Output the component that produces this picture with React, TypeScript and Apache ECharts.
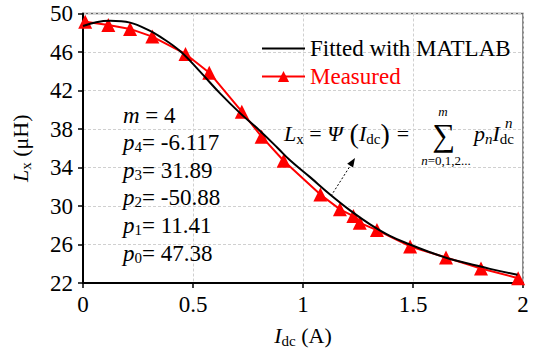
import React, { useEffect, useRef } from "react";
import * as echarts from "echarts";

const measuredX = [0.01, 0.115, 0.214, 0.315, 0.466, 0.574, 0.722, 0.812, 0.912, 1.079, 1.168, 1.229, 1.258, 1.336, 1.487, 1.65, 1.809, 1.978];
const measuredY = [49.15, 48.8, 48.4, 47.6, 45.8, 43.85, 39.8, 37.2, 34.7, 31.2, 29.65, 28.95, 28.25, 27.5, 25.8, 24.65, 23.5, 22.5];

const fittedX = [0, 0.06, 0.123, 0.214, 0.305, 0.35, 0.441, 0.532, 0.623, 0.714, 0.805, 0.886, 0.941, 1.032, 1.123, 1.214, 1.305, 1.395, 1.486, 1.577, 1.668, 1.759, 1.85, 1.975];
const fittedY = [48.7, 49.1, 49.25, 49.05, 48.2, 47.6, 46.1, 43.96, 41.7, 39.65, 37.8, 36.0, 34.75, 33.0, 31.2, 29.55, 28.1, 26.9, 26.0, 25.2, 24.5, 23.98, 23.47, 22.85];

const xTicks = [0, 0.5, 1, 1.5, 2];
const yTicks = [22, 26, 30, 34, 38, 42, 46, 50];

const paramLines = [
  "{i|m}{t| = 4}",
  "{i|p}{s|4}{t|= -6.117}",
  "{i|p}{s|3}{t|= 31.89}",
  "{i|p}{s|2}{t|= -50.88}",
  "{i|p}{s|1}{t|= 11.41}",
  "{i|p}{s|0}{t|= 47.38}",
];

const FONT = "Liberation Serif";

export default function App() {
  const ref = useRef<HTMLDivElement>(null);
  useEffect(() => {
    if (!ref.current) return;
    const chart = echarts.init(ref.current, null, { renderer: "svg" });

    const richBase = {
      i: { fontStyle: "italic", fontSize: 23, fontFamily: FONT, lineHeight: 24, color: "#000" },
      s: { fontSize: 15, fontFamily: FONT, lineHeight: 12, verticalAlign: "bottom", color: "#000" },
      t: { fontSize: 23, fontFamily: FONT, lineHeight: 24, color: "#000" },
    };

    const paramGraphics = paramLines.map((txt, k) => ({
      type: "text",
      x: 123,
      y: 115 + k * 27.6,
      style: {
        text: txt,
        rich: richBase,
        verticalAlign: "middle",
        align: "left",
        fill: "#000",
        fontFamily: FONT,
        fontSize: 23,
      },
      z: 100,
    }));

    const eqRich = {
      i: { fontStyle: "italic", fontSize: 22, fontFamily: FONT, lineHeight: 26, color: "#000" },
      s: { fontSize: 15, fontFamily: FONT, lineHeight: 12, verticalAlign: "bottom", color: "#000" },
      t: { fontSize: 22, fontFamily: FONT, lineHeight: 26, color: "#000" },
      p: { fontSize: 28, fontFamily: FONT, lineHeight: 26, color: "#000" },
    };

    const option: any = {
      animation: false,
      textStyle: { fontFamily: FONT },
      grid: { left: 83, right: 19, top: 13.5, bottom: 70, show: true, borderColor: "#666", borderWidth: 1.5, outerBoundsMode: "none" },
      legend: {
        orient: "vertical",
        left: 256,
        top: 32,
        itemWidth: 43,
        itemHeight: 14,
        itemGap: 5,
        data: [
          { name: "Fitted with MATLAB", textStyle: { color: "#000" }, itemStyle: { color: "transparent", borderWidth: 0 } },
          { name: "Measured", textStyle: { color: "#ff0000" } },
        ],
        textStyle: { fontFamily: FONT, fontSize: 23 },
      },
      xAxis: {
        type: "value",
        min: 0,
        max: 2,
        interval: 0.5,
        axisLine: { onZero: false, lineStyle: { color: "#000", width: 2 } },
        axisTick: { show: true, length: 5, lineStyle: { color: "#000", width: 1.5 } },
        axisLabel: { fontFamily: FONT, fontSize: 23, color: "#000", margin: 10, formatter: (v: number) => (xTicks.includes(v) ? String(v) : "") },
        splitLine: { show: true, lineStyle: { color: "#d0d0d0", type: [3, 2], width: 1 } },
        name: "{i|I}{s|dc}{t| (A)}",
        nameLocation: "middle",
        nameGap: 39,
        nameTextStyle: { rich: eqRich },
      },
      yAxis: {
        type: "value",
        min: 22,
        max: 50,
        interval: 4,
        axisLine: { show: true, lineStyle: { color: "#000", width: 2 } },
        axisTick: { show: true, length: 5, lineStyle: { color: "#000", width: 1.5 } },
        axisLabel: { fontFamily: FONT, fontSize: 23, color: "#000", margin: 10, formatter: (v: number) => (yTicks.includes(v) ? String(v) : "") },
        splitLine: { show: true, lineStyle: { color: "#d0d0d0", type: [3, 2], width: 1 } },
        name: "{i|L}{s|x}{t| (μH)}",
        nameLocation: "middle",
        nameRotate: 90,
        nameGap: 50,
        nameTextStyle: { rich: eqRich },
      },
      series: [
        {
          name: "Measured",
          type: "line",
          data: measuredX.map((x, k) => [x, measuredY[k]]),
          symbol: "triangle",
          symbolSize: 14,
          lineStyle: { color: "#ff0000", width: 2 },
          itemStyle: { color: "#ff0000" },
          z: 2,
        },
        {
          name: "Fitted with MATLAB",
          type: "line",
          data: fittedX.map((x, k) => [x, fittedY[k]]),
          smooth: 0.4,
          symbol: "none",
          lineStyle: { color: "#000", width: 2 },
          itemStyle: { color: "#000" },
          z: 3,
        },
      ],
      graphic: [
        ...paramGraphics,
        {
          type: "text",
          x: 284,
          y: 133,
          style: {
            text: "{i|L}{s|x}{t| = }{i|Ψ}{p| (}{i|I}{s|dc}{p|) }{t|=}",
            rich: eqRich,
            verticalAlign: "middle",
            fontFamily: FONT,
            fontSize: 22,
          },
          z: 100,
        },
        {
          type: "text",
          x: 444,
          y: 135,
          style: { text: "∑", fontFamily: FONT, fontSize: 32, fill: "#000", align: "center", verticalAlign: "middle" },
          z: 100,
        },
        {
          type: "text",
          x: 443,
          y: 111,
          style: { text: "m", fontFamily: FONT, fontStyle: "italic", fontSize: 13, fill: "#000", align: "center", verticalAlign: "middle" },
          z: 100,
        },
        {
          type: "text",
          x: 446,
          y: 160,
          style: {
            text: "{a|n}{b|=0,1,2...}",
            rich: { a: { fontFamily: FONT, fontStyle: "italic", fontSize: 13 }, b: { fontFamily: FONT, fontSize: 13 } },
            align: "center",
            verticalAlign: "middle",
          },
          z: 100,
        },
        {
          type: "text",
          x: 474,
          y: 133,
          style: {
            text: "{i|p}{si|n}{i|I}{s|dc}",
            rich: { ...eqRich, si: { fontSize: 15, fontFamily: FONT, fontStyle: "italic", lineHeight: 12, verticalAlign: "bottom", color: "#000" } },
            verticalAlign: "middle",
            fontFamily: FONT,
            fontSize: 22,
          },
          z: 100,
        },
        {
          type: "text",
          x: 505,
          y: 123,
          style: { text: "n", fontFamily: FONT, fontStyle: "italic", fontSize: 15, fill: "#000", verticalAlign: "middle" },
          z: 100,
        },
        {
          type: "line",
          shape: { x1: 331, y1: 196, x2: 352, y2: 163 },
          style: { stroke: "#000", lineWidth: 1, lineDash: [2, 2] },
          z: 100,
        },
        {
          type: "polygon",
          shape: { points: [[355, 158], [353.1, 167.5], [347.2, 163.7]] },
          style: { fill: "#000" },
          z: 100,
        },
      ],
    };
    chart.setOption(option);
    return () => chart.dispose();
  }, []);
  return <div ref={ref} style={{ position: "fixed", left: 0, top: 0, width: 542, height: 353, background: "#fff" }} />;
}
